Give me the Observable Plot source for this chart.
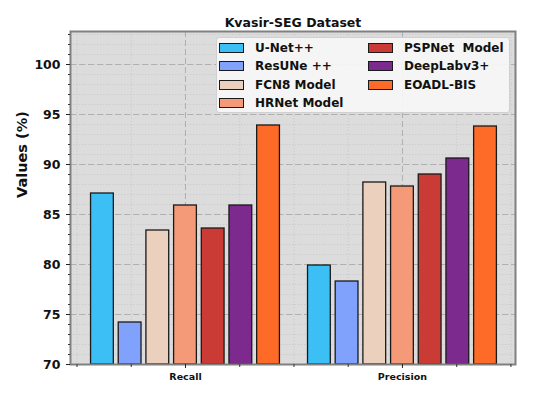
<!DOCTYPE html>
<html><head><meta charset="utf-8">
<script src="https://cdn.jsdelivr.net/npm/d3@7"></script>
<script src="https://cdn.jsdelivr.net/npm/@observablehq/plot@0.6"></script>
<style>
body{margin:0;background:#fff;font-family:"DejaVu Sans",sans-serif;}
#wrap{position:relative;width:542px;height:393px;}
#legend{position:absolute;left:216px;top:37px;width:294px;height:76px;background:rgba(246,246,246,0.93);border:1px solid #d0d0d0;border-radius:3px;box-sizing:border-box;}
.item{position:absolute;height:18.2px;display:flex;align-items:center;font-weight:bold;font-size:12px;color:#111;white-space:pre;}
.sw{width:23px;height:8px;border:1.3px solid #1a1a1a;margin-right:11px;}
</style></head><body><div id="wrap"></div>
<script>
const title = "Kvasir-SEG Dataset";
const yLabel = "Values (%)";
const metrics = ["Recall", "Precision"];
const models = ["U-Net++", "ResUNe ++", "FCN8 Model", "HRNet Model", "PSPNet  Model", "DeepLabv3+", "EOADL-BIS"];
const recall = [87.1, 74.2, 83.4, 85.9, 83.6, 85.9, 93.9];
const precision = [79.9, 78.3, 88.2, 87.8, 89.0, 90.6, 93.8];
const colors = ["#3bbff5", "#80a1fc", "#ebd0bd", "#f59a78", "#cb3b36", "#7c2a8e", "#fe6a27"];
const yTicks = [70, 75, 80, 85, 90, 95, 100];
const yMinor = d3.range(70, 104, 1);
const xMinor = [-0.5, -0.25, 0.25, 0.5, 0.75, 1.25, 1.5];

const series = [recall, precision];
const step = 0.1276, half = 0.0525;
const rows = [];
metrics.forEach((m, g) => models.forEach((mod, i) => {
  const c = g + (i - 3) * step;
  rows.push({metric: m, model: mod, value: series[g][i], x1: c - half, x2: c + half, color: colors[i]});
}));

const chart = Plot.plot({
  width: 542, height: 393,
  marginLeft: 70, marginRight: 27, marginTop: 31, marginBottom: 29,
  style: {fontFamily: "DejaVu Sans", background: "#fff"},
  x: {type: "linear", domain: [-0.53, 1.521]},
  y: {domain: [70, 103.3]},
  marks: [
    Plot.frame({fill: "#dcdcdc", stroke: null}),
    Plot.ruleY(yMinor, {stroke: "#c6c6c6", strokeDasharray: "1.2,1.8", strokeWidth: 0.8}),
    Plot.ruleX(xMinor, {stroke: "#c6c6c6", strokeDasharray: "1.2,1.8", strokeWidth: 0.8}),
    Plot.ruleY(yTicks, {stroke: "#b0b0b0", strokeDasharray: "6,3", strokeWidth: 1}),
    Plot.ruleX([0, 1], {stroke: "#b0b0b0", strokeDasharray: "6,3", strokeWidth: 1}),
    Plot.rectY(rows, {x1: "x1", x2: "x2", y1: 70, y2: "value", fill: "color", stroke: "#1a1a1a", strokeWidth: 1.3}),
    Plot.frame({stroke: "#808080", strokeWidth: 2}),
    Plot.axisY({ticks: yMinor, tickSize: 2, tickFormat: () => "", label: null, stroke: "#333"}),
    Plot.axisY({ticks: yTicks, tickSize: 4, tickPadding: 6, fontSize: 12.5, fontWeight: "bold", label: null, stroke: "#222", fill: "#111"}),
    Plot.axisX({ticks: xMinor, tickSize: 3, tickFormat: () => "", label: null, stroke: "#333"}),
    Plot.axisX({ticks: [0, 1], tickSize: 4, tickPadding: 5, tickFormat: i => metrics[i], fontSize: 9.5, fontWeight: "bold", label: null, stroke: "#222", fill: "#111"}),
    Plot.text([yLabel], {frameAnchor: "left", rotate: -90, dx: -48, fontSize: 14.5, fontWeight: "bold", fill: "#111"}),
    Plot.text([title], {frameAnchor: "top", dy: -13, fontSize: 12.5, fontWeight: "bold", fill: "#111"})
  ]
});
const wrap = document.getElementById("wrap");
wrap.appendChild(chart);
const legend = document.createElement("div");
legend.id = "legend";
models.forEach((m, i) => {
  const col = i < 4 ? 0 : 1, row = i < 4 ? i : i - 4;
  const it = document.createElement("div");
  it.className = "item";
  it.style.left = (col ? 151 : 2) + "px";
  it.style.top = (row * 18.3 + 1) + "px";
  const sw = document.createElement("div");
  sw.className = "sw";
  sw.style.background = colors[i];
  it.appendChild(sw);
  it.appendChild(document.createTextNode(m));
  legend.appendChild(it);
});
wrap.appendChild(legend);
</script></body></html>
